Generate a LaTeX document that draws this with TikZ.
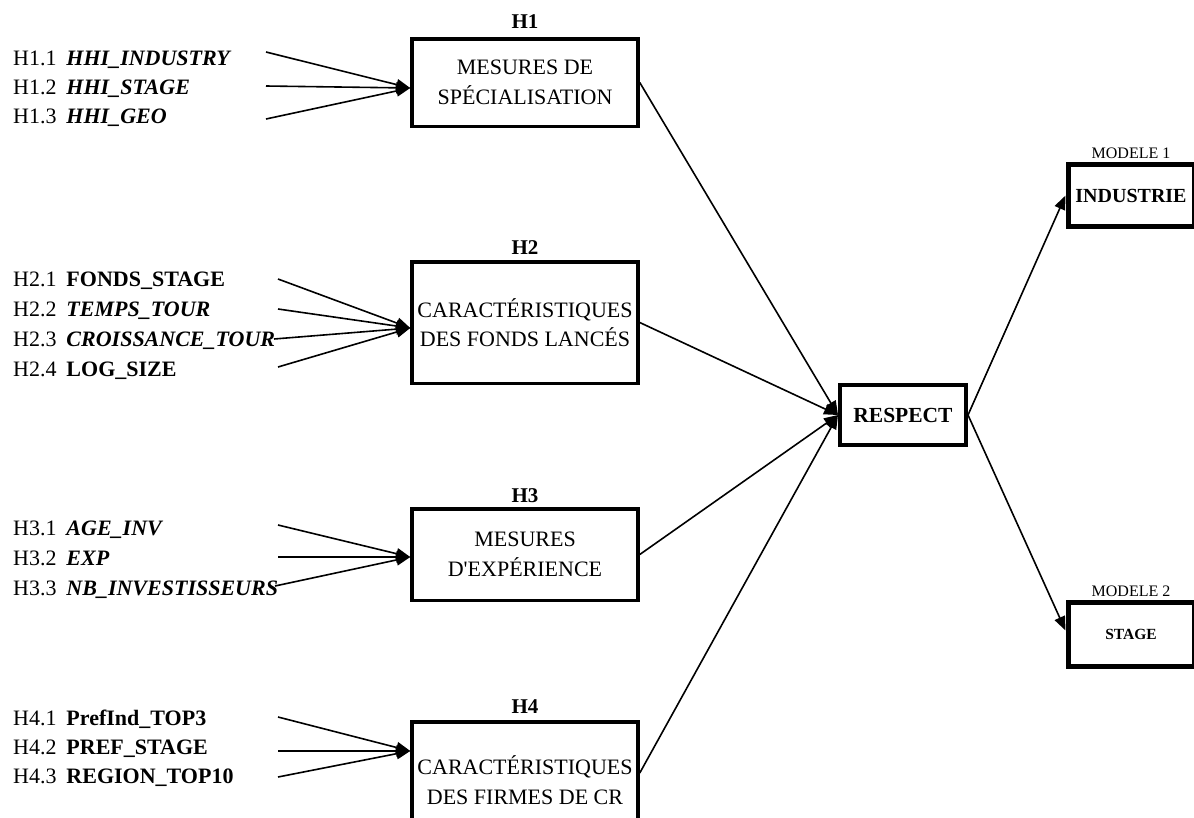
\documentclass[tikz,border=0pt]{standalone}
\usepackage{fontspec}
\setmainfont{Liberation Serif}
\usetikzlibrary{positioning}
\usetikzlibrary{arrows.meta}

\tikzset{
  hbox/.style={draw, line width=3.5pt, minimum width=226pt, align=center, inner sep=2pt,
    font=\fontsize{22}{29.5}\selectfont},
  hlabel/.style={inner sep=1pt, font=\fontsize{21}{24}\selectfont\bfseries},
  varlabel/.style={anchor=base west, inner sep=0pt, font=\fontsize{22}{26}\selectfont},
  modelbox/.style={draw, line width=5pt, minimum width=126pt, align=center},
  link/.style={line width=1.6pt, -{Triangle[length=14pt,width=11pt]}},
}
\newcommand{\varbi}[1]{\textbf{\textit{#1}}}
\newcommand{\varb}[1]{\textbf{#1}}

\begin{document}
\begin{tikzpicture}[x=1pt,y=-1pt]
        \useasboundingbox (0,0) rectangle (1194,817);
        \clip (0,0) rectangle (1194,817);

        % Hypothesis boxes
        \node[hbox, minimum height=87.5pt] (h1) at (525,82.5) {MESURES DE\\SPÉCIALISATION};
        \node[hbox, minimum height=121.5pt] (h2) at (525,322.5) {CARACTÉRISTIQUES\\DES FONDS LANCÉS};
        \node[hbox, minimum height=91.5pt] (h3) at (525,554.5) {MESURES\\D\textquotesingle EXPÉRIENCE};
        \node[hbox, minimum height=116.5pt] (h4) at (525,780) {CARACTÉRISTIQUES\\DES FIRMES DE CR};

        % Titles above the boxes
        \node[hlabel, above=7pt of h1] (t1) {H1};
        \node[hlabel, above=4.5pt of h2] (t2) {H2};
        \node[hlabel, above=3.5pt of h3] (t3) {H3};
        \node[hlabel, above=5pt of h4] (t4) {H4};

        % Variables of H1
        \node[varlabel] (l11) at (13,65) {H1.1\hspace{0.45em}\varbi{HHI\_INDUSTRY}};
        \node[varlabel] (l12) at (13,94) {H1.2\hspace{0.45em}\varbi{HHI\_STAGE}};
        \node[varlabel] (l13) at (13,123) {H1.3\hspace{0.45em}\varbi{HHI\_GEO}};
        \coordinate (s11) at (266,52);
        \coordinate (s12) at (266,86);
        \coordinate (s13) at (266,119);

        % Variables of H2
        \node[varlabel] (l21) at (13,286) {H2.1\hspace{0.45em}\varb{FONDS\_STAGE}};
        \node[varlabel] (l22) at (13,316) {H2.2\hspace{0.45em}\varbi{TEMPS\_TOUR}};
        \node[varlabel] (l23) at (13,346) {H2.3\hspace{0.45em}\varbi{CROISSANCE\_TOUR}};
        \node[varlabel] (l24) at (13,376) {H2.4\hspace{0.45em}\varb{LOG\_SIZE}};
        \coordinate (s21) at (278,279);
        \coordinate (s22) at (278,309);
        \coordinate (s23) at (274,339);
        \coordinate (s24) at (278,367);

        % Variables of H3
        \node[varlabel] (l31) at (13,535) {H3.1\hspace{0.45em}\varbi{AGE\_INV}};
        \node[varlabel] (l32) at (13,565) {H3.2\hspace{0.45em}\varbi{EXP}};
        \node[varlabel] (l33) at (13,595) {H3.3\hspace{0.45em}\varbi{NB\_INVESTISSEURS}};
        \coordinate (s31) at (278,525);
        \coordinate (s32) at (278,557);
        \coordinate (s33) at (275,586);

        % Variables of H4
        \node[varlabel] (l41) at (13,725) {H4.1\hspace{0.45em}\varb{PrefInd\_TOP3}};
        \node[varlabel] (l42) at (13,754) {H4.2\hspace{0.45em}\varb{PREF\_STAGE}};
        \node[varlabel] (l43) at (13,783) {H4.3\hspace{0.45em}\varb{REGION\_TOP10}};
        \coordinate (s41) at (278,717);
        \coordinate (s42) at (278,751);
        \coordinate (s43) at (278,777);

        % Arrows into the hypothesis boxes
        \foreach \i in {1,2,3} \draw[link] (s1\i) -- ([yshift=-5.5pt]h1.west);
        \foreach \i in {1,2,3,4} \draw[link] (s2\i) -- ([yshift=-5.5pt]h2.west);
        \foreach \i in {1,2,3} \draw[link] (s3\i) -- ([yshift=-2.5pt]h3.west);
        \foreach \i in {1,2,3} \draw[link] (s4\i) -- ([yshift=29pt]h4.west);

        % Dependent variable
        \node[draw, line width=4pt, minimum width=126pt, minimum height=60pt,
              font=\fontsize{21.5}{24}\selectfont\bfseries] (respect) at (903,415) {RESPECT};

        \draw[link] (h1.east) -- (respect.west);
        \draw[link] (h2.east) -- (respect.west);
        \draw[link] (h3.east) -- (respect.west);
        \draw[link] ([yshift=7pt]h4.east) -- (respect.west);

        % Models on the right
        \node[modelbox, minimum height=62pt, font=\fontsize{20}{24}\selectfont\bfseries] (industrie) at (1131,195.5) {INDUSTRIE};
        \node[modelbox, minimum height=64pt, font=\fontsize{15.5}{18}\selectfont\bfseries] (stage) at (1131,634.5) {STAGE};
        \node[above=2pt of industrie, inner sep=1pt, font=\fontsize{16}{18}\selectfont] (m1) {MODELE 1};
        \node[above=2pt of stage, inner sep=1pt, font=\fontsize{16}{18}\selectfont] (m2) {MODELE 2};

        \draw[link] (respect.east) -- (industrie.west);
        \draw[link] (respect.east) -- ([yshift=4pt]stage.west);
\end{tikzpicture}
\end{document}
